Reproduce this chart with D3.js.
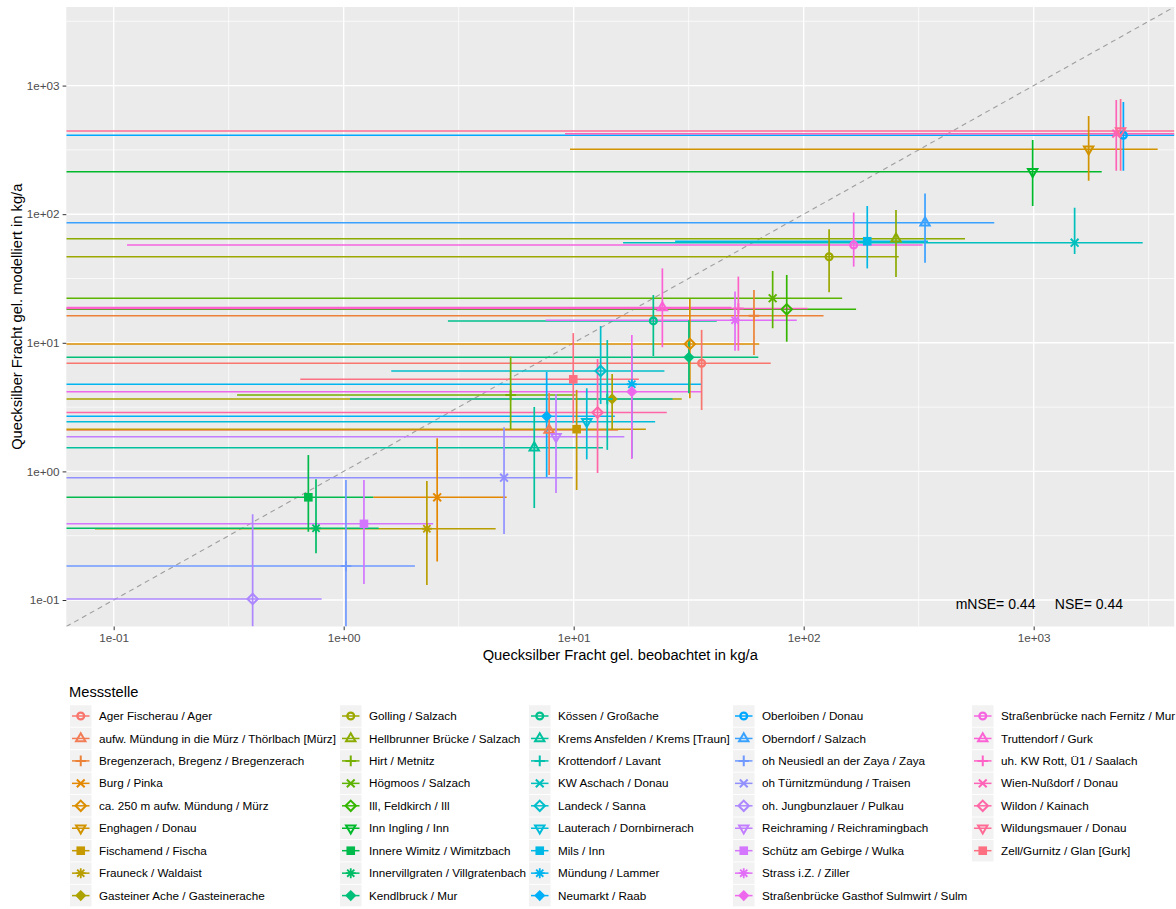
<!DOCTYPE html>
<html lang="de">
<head>
<meta charset="UTF-8">
<title>Quecksilber Fracht</title>
<script src="https://d3js.org/d3.v7.min.js"></script>
<style>
  body { margin: 0; background: #fff; }
  svg { display: block; font-family: "Liberation Sans", Arial, sans-serif; }
  .axis path { display: none; }
  .axis line { stroke: #333333; }
  .axis text { fill: #4D4D4D; font-size: 11.7px; font-family: "Liberation Sans", Arial, sans-serif; }
</style>
</head>
<body>
<svg id="chart" width="1176" height="909"></svg>
<script>
// stations (legend order) and values in kg/a; 0 as lower bound = bar runs to the panel edge
var stations = [
  "Ager Fischerau / Ager",
  "aufw. Mündung in die Mürz / Thörlbach [Mürz]",
  "Bregenzerach, Bregenz / Bregenzerach",
  "Burg / Pinka",
  "ca. 250 m aufw. Mündung / Mürz",
  "Enghagen / Donau",
  "Fischamend / Fischa",
  "Frauneck / Waldaist",
  "Gasteiner Ache / Gasteinerache",
  "Golling / Salzach",
  "Hellbrunner Brücke / Salzach",
  "Hirt / Metnitz",
  "Högmoos / Salzach",
  "Ill, Feldkirch / Ill",
  "Inn Ingling / Inn",
  "Innere Wimitz / Wimitzbach",
  "Innervillgraten / Villgratenbach",
  "Kendlbruck / Mur",
  "Kössen / Großache",
  "Krems Ansfelden / Krems [Traun]",
  "Krottendorf / Lavant",
  "KW Aschach / Donau",
  "Landeck / Sanna",
  "Lauterach / Dornbirnerach",
  "Mils / Inn",
  "Mündung / Lammer",
  "Neumarkt / Raab",
  "Oberloiben / Donau",
  "Oberndorf / Salzach",
  "oh Neusiedl an der Zaya / Zaya",
  "oh Türnitzmündung / Traisen",
  "oh. Jungbunzlauer / Pulkau",
  "Reichraming / Reichramingbach",
  "Schütz am Gebirge / Wulka",
  "Strass i.Z. / Ziller",
  "Straßenbrücke Gasthof Sulmwirt / Sulm",
  "Straßenbrücke nach Fernitz / Mur",
  "Truttendorf / Gurk",
  "uh. KW Rott, Ü1 / Saalach",
  "Wien-Nußdorf / Donau",
  "Wildon / Kainach",
  "Wildungsmauer / Donau",
  "Zell/Gurnitz / Glan [Gurk]"
];

var observed = [36.0, 7.82, 60.8, 2.55, 32.0, 1734, 10.3, 2.30, 14.7, 129, 252, 5.32, 73.3, 84.4, 990,
  0.702, 0.758, 31.7, 22.2, 6.74, 14.0, 1507, 13.1, 11.4, 189, 17.9, 7.63, 2455, 337, 1.023, 4.98, 0.402,
  8.38, 1.225, 50.3, 17.9, 165, 24.3, 52.0, 2286, 12.7, 2388, 9.96];
var observedLow = [0, 0, 0, 1.345, 0, 9.64, 0, 0.0829, 0, 0, 0, 0.344, 0, 0, 0,
  0, 0, 0, 2.84, 0, 1.065, 16.4, 1.61, 0, 27.6, 0, 0, 0, 0, 0, 0, 0,
  0, 0, 7.55, 0, 0.1143, 0, 0, 9.17, 0, 0, 0.648];
var observedHigh = [71.9, 15.6, 122, 5.11, 64.1, 3460, 20.6, 4.58, 29.5, 259, 503, 10.2, 147, 169, 1976,
  1.345, 1.42, 63.5, 41.9, 13.4, 26.9, 2978, 24.8, 22.6, 347, 35.8, 15.1, 5000, 674, 2.04, 9.90, 0.802,
  16.6, 2.45, 93.3, 35.8, 329, 48.6, 104, 5000, 25.4, 5000, 19.2];

var modelled = [6.93, 2.10, 16.2, 0.629, 9.79, 320, 2.13, 0.358, 3.66, 46.7, 64.5, 3.93, 22.2, 18.2, 214,
  0.629, 0.361, 7.71, 14.8, 1.53, 3.66, 60.0, 6.04, 2.43, 61.6, 4.76, 2.68, 411, 85.9, 0.184, 0.893, 0.102,
  1.86, 0.391, 15.0, 4.17, 57.6, 18.8, 18.5, 423, 2.87, 444, 5.20];
var modelledLow = [3.00, 0.938, 8.04, 0.199, 3.70, 182, 0.717, 0.131, 2.10, 24.7, 32.5, 2.13, 12.97, 10.2, 116,
  0.340, 0.231, 4.05, 7.89, 0.519, 1.47, 49.1, 3.34, 1.24, 37.9, 1.27, 0.905, 218, 42.0, 0, 0.326, 0,
  0.679, 0.133, 8.68, 1.25, 39.1, 9.23, 8.68, 218, 0.972, 218, 2.37];
var modelledHigh = [12.6, 4.07, 25.7, 1.81, 21.9, 580, 4.30, 0.842, 5.72, 76.3, 108, 7.80, 36.2, 33.7, 378,
  1.34, 0.868, 15.0, 23.5, 3.17, 10.5, 112, 13.5, 4.43, 116, 8.95, 5.93, 745, 145, 0.857, 2.20, 0.464,
  4.00, 0.857, 25.0, 11.5, 103, 37.9, 32.7, 773, 7.48, 787, 11.9];

var tickValues = [0.1, 1, 10, 100, 1000];
var tickLabels = ["1e-01", "1e+00", "1e+01", "1e+02", "1e+03"];
var minorValues = [Math.pow(10, -0.5), Math.pow(10, 0.5), Math.pow(10, 1.5), Math.pow(10, 2.5), Math.pow(10, 3.5)];
var scoreText = "mNSE= 0.44     NSE= 0.44";
var scorePos = [2445, 0.093];

var shapeCycle = ["circle", "triangle", "plus", "cross", "diamond", "triangleDown", "square", "asterisk", "diamondFilled"];

// R style hcl() -> hex (polar Luv, D65)
function hclR(h, c, l) {
  var Xn = 95.047, Yn = 100, Zn = 108.883;
  var un = 4 * Xn / (Xn + 15 * Yn + 3 * Zn), vn = 9 * Yn / (Xn + 15 * Yn + 3 * Zn);
  var hr = h * Math.PI / 180;
  var U = c * Math.cos(hr), V = c * Math.sin(hr);
  var Y = Yn * (l > 7.999592 ? Math.pow((l + 16) / 116, 3) : l / 903.3);
  var u = U / (13 * l) + un, v = V / (13 * l) + vn;
  var X = 9 * Y * u / (4 * v);
  var Z = -X / 3 - 5 * Y + 3 * Y / v;
  X /= 100; Y /= 100; Z /= 100;
  var r = 3.240479 * X - 1.537150 * Y - 0.498535 * Z;
  var g = -0.969256 * X + 1.875992 * Y + 0.041556 * Z;
  var b = 0.055648 * X - 0.204043 * Y + 1.057311 * Z;
  function gam(t) { t = t > 0.0031308 ? 1.055 * Math.pow(t, 1 / 2.4) - 0.055 : 12.92 * t; return Math.max(0, Math.min(255, Math.round(t * 255))); }
  return d3.rgb(gam(r), gam(g), gam(b)).formatHex();
}

var n = stations.length;
var colors = stations.map(function(d, i) { return hclR(15 + i * 360 / n, 100, 65); });

var data = stations.map(function(name, i) {
  return { name: name, obs: observed[i], obsLo: observedLow[i], obsHi: observedHigh[i],
    mod: modelled[i], modLo: modelledLow[i], modHi: modelledHigh[i],
    color: colors[i], shape: shapeCycle[i % shapeCycle.length] };
});

var panel = { left: 66.3, top: 7, right: 1174.2, bottom: 626.5 };
var domain = [Math.pow(10, -1.206), Math.pow(10, 3.611)];

var x = d3.scaleLog().domain(domain).range([panel.left, panel.right]);
var y = d3.scaleLog().domain(domain).range([panel.bottom, panel.top]);
function lo(v) { return v > 0 ? v : domain[0]; }

var svg = d3.select("#chart");

svg.append("defs").append("clipPath").attr("id", "clip")
  .append("rect")
  .attr("x", panel.left).attr("y", panel.top)
  .attr("width", panel.right - panel.left).attr("height", panel.bottom - panel.top);

// panel + grid
svg.append("rect")
  .attr("x", panel.left).attr("y", panel.top)
  .attr("width", panel.right - panel.left).attr("height", panel.bottom - panel.top)
  .attr("fill", "#EBEBEB");

var grid = svg.append("g");
grid.selectAll(".vminor").data(minorValues).enter().append("line")
  .attr("x1", function(d) { return x(d); }).attr("x2", function(d) { return x(d); })
  .attr("y1", panel.top).attr("y2", panel.bottom)
  .attr("stroke", "#fff").attr("stroke-width", 0.7);
grid.selectAll(".hminor").data(minorValues).enter().append("line")
  .attr("y1", function(d) { return y(d); }).attr("y2", function(d) { return y(d); })
  .attr("x1", panel.left).attr("x2", panel.right)
  .attr("stroke", "#fff").attr("stroke-width", 0.7);
grid.selectAll(".vmajor").data(tickValues).enter().append("line")
  .attr("x1", function(d) { return x(d); }).attr("x2", function(d) { return x(d); })
  .attr("y1", panel.top).attr("y2", panel.bottom)
  .attr("stroke", "#fff").attr("stroke-width", 1.4);
grid.selectAll(".hmajor").data(tickValues).enter().append("line")
  .attr("y1", function(d) { return y(d); }).attr("y2", function(d) { return y(d); })
  .attr("x1", panel.left).attr("x2", panel.right)
  .attr("stroke", "#fff").attr("stroke-width", 1.4);

var plot = svg.append("g").attr("clip-path", "url(#clip)");

// 1:1 line
plot.append("line")
  .attr("x1", x(domain[0])).attr("y1", y(domain[0]))
  .attr("x2", x(domain[1])).attr("y2", y(domain[1]))
  .attr("stroke", "#9E9E9E").attr("stroke-width", 1.1)
  .attr("stroke-dasharray", "5,4");

// horizontal error bars
plot.selectAll(".hbar").data(data).enter().append("line")
  .attr("x1", function(d) { return x(lo(d.obsLo)); })
  .attr("x2", function(d) { return x(d.obsHi); })
  .attr("y1", function(d) { return y(d.mod); })
  .attr("y2", function(d) { return y(d.mod); })
  .attr("stroke", function(d) { return d.color; })
  .attr("stroke-width", 1.5);

// vertical error bars
plot.selectAll(".vbar").data(data).enter().append("line")
  .attr("y1", function(d) { return y(lo(d.modLo)); })
  .attr("y2", function(d) { return y(d.modHi); })
  .attr("x1", function(d) { return x(d.obs); })
  .attr("x2", function(d) { return x(d.obs); })
  .attr("stroke", function(d) { return d.color; })
  .attr("stroke-width", 1.7);

function drawShape(g, shape, color) {
  var sw = 2;
  if (shape === "circle") {
    g.append("circle").attr("r", 3.4).attr("fill", "none").attr("stroke", color).attr("stroke-width", 2.3);
  } else if (shape === "triangle") {
    g.append("path").attr("d", "M0,-5.3L4.7,2.8L-4.7,2.8Z").attr("fill", "none").attr("stroke", color).attr("stroke-width", sw);
  } else if (shape === "triangleDown") {
    g.append("path").attr("d", "M0,5.3L4.7,-2.8L-4.7,-2.8Z").attr("fill", "none").attr("stroke", color).attr("stroke-width", sw);
  } else if (shape === "plus") {
    g.append("path").attr("d", "M-5.3,0H5.3M0,-5.3V5.3").attr("stroke", color).attr("stroke-width", sw);
  } else if (shape === "cross") {
    g.append("path").attr("d", "M-3.9,-3.9L3.9,3.9M-3.9,3.9L3.9,-3.9").attr("stroke", color).attr("stroke-width", sw);
  } else if (shape === "diamond") {
    g.append("path").attr("d", "M0,-5.2L5.2,0L0,5.2L-5.2,0Z").attr("fill", "none").attr("stroke", color).attr("stroke-width", sw);
  } else if (shape === "square") {
    g.append("rect").attr("x", -4.3).attr("y", -4.3).attr("width", 8.6).attr("height", 8.6).attr("fill", color);
  } else if (shape === "asterisk") {
    g.append("path").attr("d", "M-5,0H5M0,-5V5M-3.6,-3.6L3.6,3.6M-3.6,3.6L3.6,-3.6").attr("stroke", color).attr("stroke-width", 1.8);
  } else if (shape === "diamondFilled") {
    g.append("path").attr("d", "M0,-5.6L5.6,0L0,5.6L-5.6,0Z").attr("fill", color);
  }
}

plot.selectAll(".pt").data(data).enter().append("g")
  .attr("transform", function(d) { return "translate(" + x(d.obs) + "," + y(d.mod) + ")"; })
  .each(function(d) { drawShape(d3.select(this), d.shape, d.color); });

// annotation
svg.append("text")
  .attr("x", x(scorePos[0])).attr("y", y(scorePos[1]))
  .attr("dy", "0.35em")
  .attr("text-anchor", "end")
  .attr("font-size", "14px")
  .attr("fill", "#000")
  .style("white-space", "pre")
  .text(scoreText);

// axes
svg.append("g")
  .attr("class", "axis")
  .attr("transform", "translate(0," + panel.bottom + ")")
  .call(d3.axisBottom(x).tickValues(tickValues)
    .tickFormat(function(d, i) { return tickLabels[i]; })
    .tickSize(3.7).tickPadding(3.5));

svg.append("g")
  .attr("class", "axis")
  .attr("transform", "translate(" + panel.left + ",0)")
  .call(d3.axisLeft(y).tickValues(tickValues)
    .tickFormat(function(d, i) { return tickLabels[i]; })
    .tickSize(3.7).tickPadding(3));

svg.append("text")
  .attr("x", (panel.left + panel.right) / 2).attr("y", 660)
  .attr("text-anchor", "middle")
  .attr("font-size", "14.7px")
  .text("Quecksilber Fracht gel. beobachtet in kg/a");

svg.append("text")
  .attr("transform", "translate(22," + ((panel.top + panel.bottom) / 2) + ") rotate(-90)")
  .attr("text-anchor", "middle")
  .attr("font-size", "14.7px")
  .text("Quecksilber Fracht gel. modelliert in kg/a");

// legend
var legend = svg.append("g");
legend.append("text")
  .attr("x", 69).attr("y", 697)
  .attr("font-size", "14.7px")
  .text("Messstelle");

var colKeyX = [70, 340, 529, 733, 972];
var rowsPerCol = 9, rowStep = 22.45, firstRowY = 716, keySize = 21.5;

var item = legend.selectAll(".item").data(data).enter().append("g")
  .attr("transform", function(d, i) {
    var c = Math.floor(i / rowsPerCol), r = i % rowsPerCol;
    return "translate(" + colKeyX[c] + "," + (firstRowY + r * rowStep) + ")";
  });
item.append("rect")
  .attr("x", 0).attr("y", -keySize / 2)
  .attr("width", keySize).attr("height", keySize)
  .attr("fill", "#F2F2F2");
item.append("line")
  .attr("x1", 2).attr("x2", keySize - 2)
  .attr("stroke", function(d) { return d.color; })
  .attr("stroke-width", 1.5);
item.append("g")
  .attr("transform", "translate(" + keySize / 2 + ",0)")
  .each(function(d) { drawShape(d3.select(this), d.shape, d.color); });
item.append("text")
  .attr("x", keySize + 7.5).attr("dy", "0.35em")
  .attr("font-size", "11.7px")
  .attr("fill", "#000")
  .text(function(d) { return d.name; });
</script>
</body>
</html>
